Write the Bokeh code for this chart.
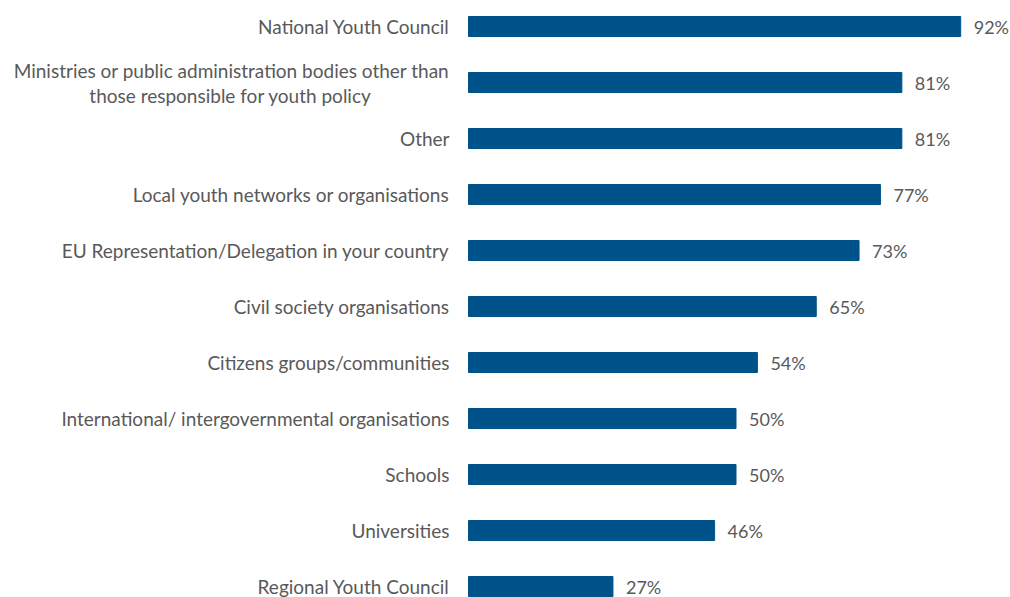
from bokeh.plotting import figure
from bokeh.models import ColumnDataSource, Range1d
from bokeh.core.properties import value
from bokeh.embed import file_html
from bokeh.resources import INLINE

categories = [
    "National Youth Council",
    "Ministries or public administration bodies other than\nthose responsible for youth policy",
    "Other",
    "Local youth networks or organisations",
    "EU Representation/Delegation in your country",
    "Civil society organisations",
    "Citizens groups/communities",
    "International/ intergovernmental organisations",
    "Schools",
    "Universities",
    "Regional Youth Council",
]
values = [92, 81, 81, 77, 73, 65, 54, 50, 50, 46, 27]

W, H = 1010, 597
FONT = value("Lato")
TXT = "#595959"
BAR = "#00538A"
PX_PER_PCT = 5.35
ZERO_PX = 468
ROW = 56.0
TOP = 26.0

idx = list(range(len(categories)))
src = ColumnDataSource(dict(
    y=idx, v=values, lab=[f"{v}%" for v in values],
))

p = figure(width=W, height=H, output_backend="svg", toolbar_location=None,
           x_range=Range1d(-ZERO_PX / PX_PER_PCT, (W - ZERO_PX) / PX_PER_PCT),
           y_range=Range1d((H - TOP) / ROW, -TOP / ROW),
           min_border=0, min_border_left=0, min_border_right=0,
           min_border_top=0, min_border_bottom=0)
p.axis.visible = False
p.grid.visible = False
p.outline_line_color = None
p.background_fill_color = "white"
p.border_fill_color = "white"

p.hbar(y="y", left=0, right="v", height=20 / ROW, source=src,
       fill_color=BAR, line_color=BAR)

p.text(x="v", y="y", text="lab", source=src, x_offset=13,
       text_align="left", text_baseline="middle", text_font=FONT,
       text_font_size="18px", text_color=TXT)

single = [(i, c) for i, c in enumerate(categories) if "\n" not in c]
lsrc = ColumnDataSource(dict(y=[i for i, _ in single], t=[c for _, c in single],
                             x=[0] * len(single)))
p.text(x="x", y="y", text="t", source=lsrc, x_offset=-19,
       text_align="right", text_baseline="middle", text_font=FONT,
       text_font_size="19px", text_color=TXT)

for i, c in enumerate(categories):
    if "\n" in c:
        l1, l2 = c.split("\n")
        p.text(x=[0], y=[i], text=[l1], x_offset=-19, y_offset=-12,
               text_align="right", text_baseline="middle", text_font=FONT,
               text_font_size="19px", text_color=TXT)
        p.text(x=[0], y=[i], text=[l2], x_offset=-238, y_offset=13,
               text_align="center", text_baseline="middle", text_font=FONT,
               text_font_size="19px", text_color=TXT)

open("out.html", "w").write(file_html(p, INLINE))
